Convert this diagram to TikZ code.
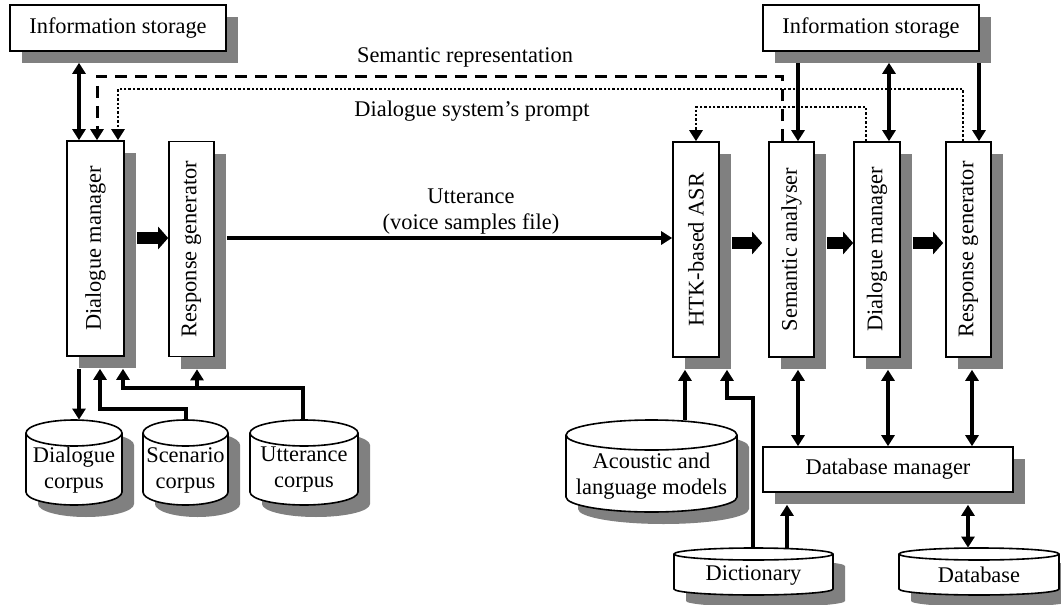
\documentclass[tikz,border=0pt]{standalone}
\usepackage{fontspec}
\setmainfont{Liberation Serif}
\usepackage{graphicx}
\usetikzlibrary{arrows.meta,shadows}

% cylinder store: name, x, y, width, height, ellipse radius, text shift, text
\newcommand{\dbstore}[8]{%
  \begin{scope}[shift={(#2,#3)}]
    \fill[black!50,shift={(6pt,-6pt)}] ({-#4/2},{#5/2-#6}) -- ({-#4/2},{-#5/2+#6})
      arc[start angle=180,end angle=360,x radius={#4/2},y radius=#6] -- ({#4/2},{#5/2-#6})
      arc[start angle=0,end angle=180,x radius={#4/2},y radius=#6] -- cycle;
    \filldraw[fill=white,line width=0.8pt] ({-#4/2},{#5/2-#6}) -- ({-#4/2},{-#5/2+#6})
      arc[start angle=180,end angle=360,x radius={#4/2},y radius=#6] -- ({#4/2},{#5/2-#6})
      arc[start angle=0,end angle=180,x radius={#4/2},y radius=#6] -- cycle;
    \draw[line width=0.8pt] ({-#4/2},{#5/2-#6}) arc[start angle=180,end angle=360,x radius={#4/2},y radius=#6];
    \node[minimum width=#4,minimum height=#5,inner sep=0pt,
      label={[align=center,yshift=#7]center:#8}] (#1) at (0,0) {};
  \end{scope}}

\begin{document}
\begin{tikzpicture}[x=0.5pt,y=-0.5pt,
  every node/.style={font=\fontsize{11.2}{13}\selectfont},
  boxshadow/.style={drop shadow={shadow xshift=6pt,shadow yshift=-6pt,fill=black!50,opacity=1}},
  blk/.style={draw,fill=white,line width=0.8pt,inner sep=0pt,boxshadow},
  vblk/.style={blk,minimum height=107.5pt},
  con/.style={line width=1.6pt,>={Triangle[width=6.5pt,length=5.5pt]}},
  fat/.style={line width=6pt,-{Triangle[width=11pt,length=5pt]}},
  semrep/.style={con,line width=1.5pt,dash pattern=on 6pt off 4pt},
  prompt/.style={con,line width=1.4pt,dash pattern=on 1.2pt off 1pt}]
  \useasboundingbox (0,0) rectangle (1061,605);

  % left side: user simulator
  \node[blk,minimum width=108pt,minimum height=23pt] (info1) at (118,28) {Information storage};
  \node[vblk,minimum width=28.5pt] (dm1) at (95.5,248.5) {\rotatebox{90}{Dialogue manager}};
  \node[vblk,minimum width=22.5pt] (rg1) at (191.5,249) {\rotatebox{90}{Response generator}};

  \dbstore{dc}{74}{462.5}{48pt}{42.5pt}{6.5pt}{-3.75pt}{Dialogue\\corpus}
  \dbstore{sc}{185.5}{462.5}{42.5pt}{42.5pt}{6.5pt}{-3.75pt}{Scenario\\corpus}
  \dbstore{uc}{304}{462.5}{54pt}{42.5pt}{6.5pt}{-3.75pt}{Utterance\\corpus}

  % right side: dialogue system
  \node[blk,minimum width=108pt,minimum height=23pt] (info2) at (871,28) {Information storage};
  \node[vblk,minimum width=23pt] (asr) at (696,249.5) {\rotatebox{90}{HTK-based ASR}};
  \node[vblk,minimum width=22.5pt] (sa) at (791.5,249.5) {\rotatebox{90}{Semantic analyser}};
  \node[vblk,minimum width=23pt] (dm2) at (877,249.5) {\rotatebox{90}{Dialogue manager}};
  \node[vblk,minimum width=22.5pt] (rg2) at (968.5,249.5) {\rotatebox{90}{Response generator}};
  \node[blk,minimum width=125pt,minimum height=22.5pt] (dbm) at (888,469.5) {Database manager};

  \dbstore{am}{651.5}{466}{85.5pt}{46pt}{7.5pt}{-5.25pt}{Acoustic and\\language models}
  \dbstore{dict}{753.5}{571.5}{79.5pt}{23.5pt}{3pt}{-1.75pt}{Dictionary}
  \dbstore{db}{979}{571.5}{80pt}{23.5pt}{3pt}{-1.75pt}{Database}

  % labels
  \node (semlbl) at (465,57) {Semantic representation};
  \node (promptlbl) at (472,111) {Dialogue system's prompt};
  \node[align=center] (uttlbl) at (471,212) {Utterance\\(voice samples file)};

  % top connectors
  \draw[con,<->] ([yshift=-5.5pt]info1.south -| 79,0) -- (dm1.north -| 79,0);
  \draw[semrep,->] (sa.north -| 782,0) -- (782,76) -| (dm1.north -| 97,0);
  \draw[prompt,->] (rg2.north -| 963,0) -- (963,89) -| (dm1.north -| 118,0);
  \draw[prompt,->] (dm2.north -| 866,0) -- (866,107) -| (asr.north);
  \draw[con,->] ([yshift=-5.5pt]info2.south -| 798,0) -- (sa.north -| 798,0);
  \draw[con,<->] ([yshift=-5.5pt]info2.south -| 889,0) -- (dm2.north -| 889,0);
  \draw[con,->] ([yshift=-5.5pt]info2.south -| 979,0) -- (rg2.north -| 979,0);

  % flow between modules
  \draw[fat] ([xshift=6pt]dm1.east |- 0,238) -- (rg1.west |- 0,238);
  \draw[con,->] ([xshift=6pt]rg1.east |- 0,238) -- (asr.west |- 0,238);
  \draw[fat] ([xshift=6pt]asr.east |- 0,243) -- ([xshift=-3pt]sa.west |- 0,243);
  \draw[fat] ([xshift=6pt]sa.east |- 0,243) -- (dm2.west |- 0,243);
  \draw[fat] ([xshift=6pt]dm2.east |- 0,243) -- ([xshift=-1pt]rg2.west |- 0,243);

  % bottom connectors
  \coordinate (uj) at (197,388);
  \draw[con,->] ([yshift=-6pt]dm1.south -| 79,0) -- (dc.north -| 79,0);
  \draw[con,->] (sc.north -| 186,0) -- (186,409) -| ([yshift=-6pt]dm1.south -| 100,0);
  \draw[con,->] (uc.north -| 303,0) -- (303,388) -| ([yshift=-6pt]dm1.south -| 123,0);
  \draw[con,->] (uj) -- ([yshift=-6pt]rg1.south -| uj);
  \draw[con,->] (am.north -| 685,0) -- ([yshift=-6pt]asr.south -| 685,0);
  \draw[con,->] (dict.north -| 753,0) -- (753,398) -| ([yshift=-6pt]asr.south -| 727,0);
  \draw[con,->] (dict.north -| 787,0) -- ([yshift=-6pt]dbm.south -| 787,0);
  \draw[con,<->] ([yshift=-6pt]sa.south -| 798,0) -- (dbm.north -| 798,0);
  \draw[con,<->] ([yshift=-6pt]dm2.south -| 888,0) -- (dbm.north -| 888,0);
  \draw[con,<->] ([yshift=-6pt]rg2.south -| 972,0) -- (dbm.north -| 972,0);
  \draw[con,<->] ([yshift=-6pt]dbm.south -| 968,0) -- (db.north -| 968,0);
\end{tikzpicture}
\end{document}
